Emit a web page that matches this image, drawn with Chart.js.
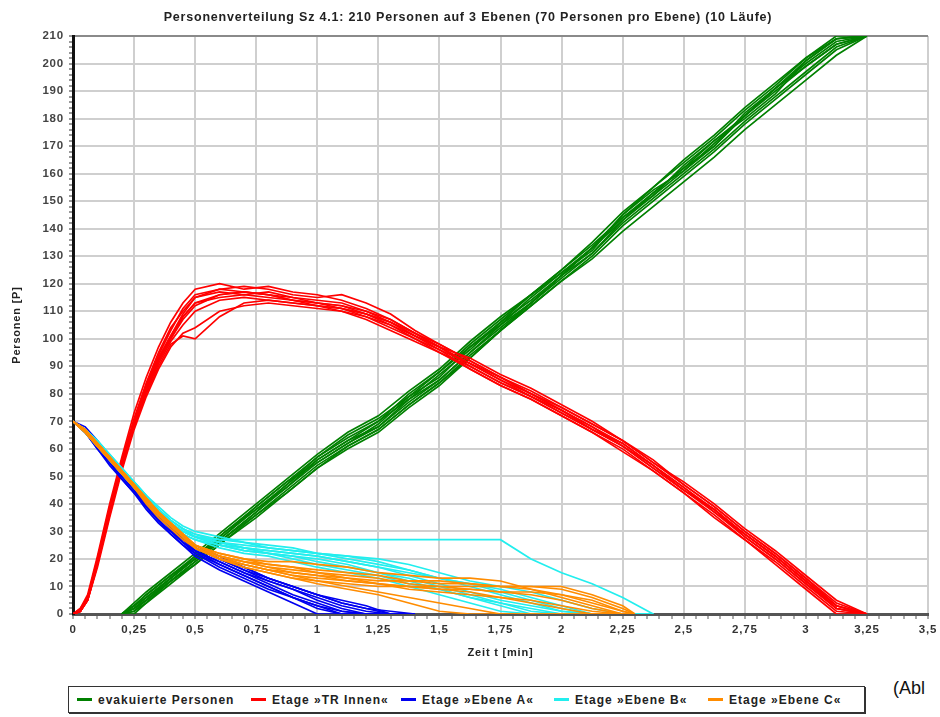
<!DOCTYPE html>
<html>
<head>
<meta charset="utf-8">
<script src="https://cdn.jsdelivr.net/npm/chart.js@4"></script>
<style>
  body { margin: 0; background: #fff; font-family: "Liberation Sans", Arial, sans-serif; }
  #wrap { position: relative; width: 940px; height: 717px; }
  #chart { position: absolute; left: 0; top: 0; }
  #legend { position: absolute; left: 68px; top: 686px; width: 797px; height: 27px;
            border: 1px solid #333; box-shadow: 1px 1px 0 #333; box-sizing: border-box; }
  .item { position: absolute; top: 6px; font-weight: bold; font-size: 12px; letter-spacing: 1px; color: #222; white-space: nowrap; }
  .item i { display: inline-block; width: 15px; height: 3px; vertical-align: middle; margin-right: 6px; position: relative; top: -1px; }
  #abl { position: absolute; left: 893px; top: 678px; font-size: 18px; color: #111; }
</style>
</head>
<body>
<div id="wrap">
  <canvas id="chart" width="940" height="668"></canvas>
  <div id="legend"></div>
  <div id="abl">(Abl</div>
</div>
<script>
// ---- data (time in min, persons) ----
const chartTitle = 'Personenverteilung Sz 4.1: 210 Personen auf 3 Ebenen (70 Personen pro Ebene) (10 Läufe)';
const seriesNames = ['evakuierte Personen', 'Etage »TR Innen«', 'Etage »Ebene A«', 'Etage »Ebene B«', 'Etage »Ebene C«'];
const seriesColors = ['#008000', '#ff0000', '#0000f0', '#22eeee', '#ff8c00'];

// evakuierte Personen
const tGreen = [0.2, 0.25, 0.3, 0.4, 0.5, 0.625, 0.75, 0.875, 1, 1.125, 1.25, 1.375, 1.5, 1.625, 1.75, 1.875, 2, 2.125, 2.25, 2.375, 2.5, 2.625, 2.75, 2.875, 3, 3.125, 3.25];
const greenRuns = [
  [0, 3, 7, 14, 21, 30, 39, 48, 57, 64, 70, 80, 88, 98, 107, 116, 125, 135, 146, 155, 164, 173, 183, 192, 202, 209, 210],
  [0, 2, 5, 12, 19, 28, 37, 46, 55, 62, 68, 77, 85, 95, 104, 113, 122, 131, 142, 151, 160, 169, 179, 188, 197, 206, 210],
  [0, 4, 8, 15, 22, 31, 40, 49, 58, 66, 72, 81, 89, 99, 108, 116, 124, 133, 143, 152, 161, 171, 181, 191, 201, 209, 210],
  [0, 1, 4, 11, 18, 27, 35, 44, 53, 60, 66, 75, 83, 93, 103, 113, 123, 133, 145, 155, 165, 174, 184, 193, 202, 210, 210],
  [0, 3, 6, 13, 20, 30, 38, 46, 56, 63, 70, 78, 87, 96, 106, 114, 123, 133, 144, 153, 162, 172, 181, 190, 199, 207, 210],
  [0, 2, 6, 13, 21, 29, 39, 48, 55, 62, 69, 79, 86, 97, 105, 115, 124, 132, 145, 154, 161, 170, 182, 191, 200, 208, 210],
  [0, 0, 4, 12, 19, 28, 36, 45, 54, 61, 67, 76, 84, 94, 103, 112, 121, 130, 141, 150, 159, 168, 178, 187, 196, 205, 210],
  [0, 3, 7, 14, 20, 29, 38, 47, 57, 65, 71, 79, 88, 97, 106, 116, 125, 134, 144, 152, 163, 172, 180, 189, 201, 209, 210],
  [0, 2, 5, 13, 20, 28, 37, 47, 56, 63, 68, 78, 85, 95, 105, 113, 123, 131, 143, 153, 162, 170, 181, 191, 199, 207, 210],
  [0, 1, 5, 12, 18, 27, 36, 44, 53, 61, 67, 76, 84, 93, 103, 112, 121, 129, 139, 148, 157, 166, 176, 185, 194, 203, 210]
];

// Etage »TR Innen«
const tRed = [0, 0.03, 0.06, 0.1, 0.15, 0.2, 0.25, 0.3, 0.35, 0.4, 0.45, 0.5, 0.6, 0.7, 0.8, 0.9, 1, 1.1, 1.2, 1.3, 1.4, 1.5, 1.625, 1.75, 1.875, 2, 2.125, 2.25, 2.375, 2.5, 2.625, 2.75, 2.875, 3, 3.125, 3.25];
const redRuns = [
  [0, 1, 6, 20, 38, 55, 70, 83, 94, 103, 111, 116, 118, 119, 118, 116, 115, 116, 113, 109, 103, 98, 92, 86, 81, 75, 69, 63, 56, 47, 39, 30, 22, 13, 4, 0],
  [0, 1, 5, 18, 36, 53, 68, 81, 91, 99, 105, 110, 114, 115, 114, 113, 112, 111, 108, 104, 100, 95, 90, 84, 79, 73, 67, 61, 53, 45, 37, 28, 20, 11, 2, 0],
  [0, 2, 7, 21, 40, 57, 73, 86, 97, 106, 113, 118, 120, 118, 119, 117, 116, 114, 111, 107, 102, 97, 93, 87, 82, 76, 70, 63, 55, 48, 40, 31, 23, 14, 5, 0],
  [0, 1, 5, 17, 35, 52, 67, 79, 89, 97, 102, 104, 110, 112, 113, 112, 111, 110, 108, 105, 101, 96, 89, 83, 78, 72, 66, 60, 52, 44, 36, 27, 19, 10, 1, 0],
  [0, 1, 6, 19, 37, 54, 69, 82, 92, 100, 108, 113, 116, 117, 116, 114, 113, 112, 110, 106, 101, 97, 91, 85, 80, 74, 68, 62, 54, 46, 38, 29, 21, 12, 3, 0],
  [0, 2, 6, 20, 39, 56, 71, 84, 95, 104, 110, 115, 117, 116, 117, 115, 114, 113, 110, 107, 102, 98, 92, 86, 80, 74, 68, 61, 54, 45, 38, 29, 21, 12, 3, 0],
  [0, 1, 5, 18, 36, 53, 68, 80, 90, 98, 101, 100, 108, 113, 114, 113, 112, 110, 107, 103, 99, 95, 89, 83, 78, 72, 66, 59, 52, 44, 35, 27, 18, 9, 0, 0],
  [0, 1, 6, 19, 38, 55, 70, 83, 93, 101, 109, 115, 118, 117, 116, 115, 113, 112, 109, 106, 102, 97, 91, 86, 80, 75, 69, 63, 55, 47, 39, 30, 22, 13, 3, 0],
  [0, 1, 6, 19, 37, 54, 69, 82, 93, 101, 108, 113, 115, 116, 115, 114, 113, 111, 109, 105, 100, 96, 91, 85, 79, 74, 67, 62, 54, 46, 37, 29, 21, 12, 2, 0],
  [0, 1, 5, 18, 37, 54, 69, 81, 92, 100, 107, 112, 116, 117, 116, 114, 112, 111, 109, 106, 101, 97, 90, 84, 79, 73, 67, 61, 53, 45, 38, 28, 20, 11, 2, 0]
];

// Etage »Ebene A«
const tBlue = [0, 0.05, 0.1, 0.15, 0.2, 0.25, 0.3, 0.35, 0.4, 0.45, 0.5, 0.6, 0.7, 0.8, 0.9, 1, 1.1, 1.2, 1.3, 1.4];
const blueRuns = [
  [70, 66, 61, 55, 50, 45, 39, 34, 30, 26, 22, 18, 14, 10, 6, 2, 0, 0, 0, 0],
  [70, 67, 62, 57, 52, 47, 41, 36, 32, 27, 24, 20, 16, 12, 9, 5, 2, 0, 0, 0],
  [70, 66, 60, 55, 49, 44, 38, 33, 29, 25, 21, 16, 12, 8, 4, 0, 0, 0, 0, 0],
  [70, 67, 62, 56, 51, 46, 41, 36, 31, 27, 24, 20, 16, 13, 10, 7, 4, 2, 0, 0],
  [70, 66, 61, 56, 51, 46, 40, 35, 31, 26, 23, 19, 15, 11, 7, 4, 1, 0, 0, 0],
  [70, 68, 63, 57, 52, 47, 41, 36, 32, 28, 25, 21, 17, 13, 10, 7, 5, 3, 0, 0],
  [70, 66, 61, 56, 50, 45, 39, 34, 30, 26, 23, 18, 14, 10, 6, 3, 1, 0, 0, 0],
  [70, 67, 62, 57, 52, 46, 40, 35, 31, 27, 23, 19, 15, 12, 9, 6, 3, 1, 0, 0],
  [70, 66, 60, 54, 49, 44, 39, 34, 29, 25, 22, 17, 13, 9, 6, 3, 0, 0, 0, 0],
  [70, 67, 62, 56, 51, 46, 41, 36, 32, 28, 24, 20, 17, 13, 10, 7, 4, 2, 1, 0]
];

// Etage »Ebene B«
const tCyan = [0, 0.05, 0.1, 0.15, 0.2, 0.25, 0.3, 0.35, 0.4, 0.45, 0.5, 0.6, 0.7, 0.8, 0.9, 1, 1.125, 1.25, 1.375, 1.5, 1.625, 1.75, 1.875, 2, 2.125, 2.25, 2.375];
const cyanRuns = [
  [70, 67, 62, 57, 52, 47, 42, 37, 33, 30, 28, 27, 27, 27, 27, 27, 27, 27, 27, 27, 27, 27, 20, 15, 11, 6, 0],
  [70, 67, 63, 58, 53, 48, 43, 38, 34, 31, 29, 26, 25, 24, 23, 22, 21, 19, 16, 13, 10, 7, 4, 1, 0, 0, 0],
  [70, 66, 61, 56, 51, 46, 41, 36, 32, 29, 27, 25, 23, 22, 21, 20, 18, 15, 12, 9, 6, 3, 0, 0, 0, 0, 0],
  [70, 67, 62, 57, 52, 47, 42, 38, 34, 31, 28, 26, 24, 23, 22, 21, 19, 17, 15, 13, 11, 9, 6, 3, 0, 0, 0],
  [70, 66, 62, 56, 51, 46, 41, 36, 32, 29, 27, 24, 22, 21, 19, 17, 15, 13, 10, 7, 4, 1, 0, 0, 0, 0, 0],
  [70, 67, 63, 58, 53, 48, 43, 39, 35, 32, 30, 28, 26, 25, 24, 22, 20, 18, 16, 13, 11, 8, 5, 2, 0, 0, 0],
  [70, 66, 61, 56, 51, 46, 42, 37, 33, 30, 28, 25, 23, 22, 20, 18, 16, 14, 11, 9, 6, 4, 2, 0, 0, 0, 0],
  [70, 67, 62, 57, 52, 48, 43, 38, 34, 31, 29, 27, 26, 24, 23, 22, 21, 20, 18, 15, 12, 10, 8, 5, 2, 0, 0],
  [70, 66, 61, 56, 51, 46, 41, 37, 33, 30, 28, 26, 24, 23, 22, 21, 19, 17, 14, 11, 8, 5, 3, 1, 0, 0, 0],
  [70, 67, 62, 57, 52, 47, 42, 37, 33, 30, 28, 25, 24, 22, 21, 19, 17, 15, 13, 10, 7, 4, 1, 0, 0, 0, 0]
];

// Etage »Ebene C«
const tOrange = [0, 0.05, 0.1, 0.15, 0.2, 0.25, 0.3, 0.35, 0.4, 0.45, 0.5, 0.6, 0.7, 0.8, 0.9, 1, 1.125, 1.25, 1.375, 1.5, 1.625, 1.75, 1.875, 2, 2.125, 2.25, 2.3];
const orangeRuns = [
  [70, 67, 62, 57, 52, 47, 42, 37, 33, 29, 25, 21, 19, 18, 17, 16, 15, 14, 12, 11, 11, 10, 10, 9, 6, 2, 0],
  [70, 66, 61, 56, 51, 46, 40, 35, 31, 27, 24, 20, 17, 15, 13, 11, 9, 7, 4, 1, 0, 0, 0, 0, 0, 0, 0],
  [70, 67, 62, 57, 52, 47, 42, 37, 33, 29, 25, 21, 19, 17, 15, 14, 13, 12, 12, 12, 11, 10, 9, 6, 3, 0, 0],
  [70, 66, 61, 56, 51, 46, 41, 36, 32, 28, 24, 20, 17, 15, 13, 12, 11, 10, 10, 9, 9, 8, 7, 5, 2, 0, 0],
  [70, 67, 62, 57, 52, 47, 42, 37, 33, 29, 25, 22, 20, 19, 19, 18, 17, 15, 14, 13, 13, 12, 9, 7, 4, 1, 0],
  [70, 66, 61, 56, 51, 46, 41, 36, 32, 28, 24, 20, 18, 16, 14, 13, 12, 11, 10, 9, 8, 6, 4, 2, 0, 0, 0],
  [70, 67, 62, 57, 52, 47, 42, 37, 32, 28, 25, 21, 19, 17, 16, 15, 13, 11, 10, 10, 10, 10, 10, 10, 7, 3, 0],
  [70, 66, 61, 56, 51, 46, 41, 36, 32, 28, 24, 21, 18, 16, 14, 12, 10, 8, 6, 4, 2, 0, 0, 0, 0, 0, 0],
  [70, 67, 62, 57, 52, 47, 42, 37, 33, 29, 25, 22, 20, 18, 17, 15, 14, 13, 11, 10, 9, 8, 8, 7, 5, 1, 0],
  [70, 66, 62, 57, 52, 47, 41, 36, 32, 28, 24, 20, 18, 16, 15, 14, 12, 11, 9, 8, 7, 6, 5, 3, 1, 0, 0]
];

const groups = [
  [tGreen, greenRuns],
  [tRed, redRuns],
  [tBlue, blueRuns],
  [tCyan, cyanRuns],
  [tOrange, orangeRuns]
];

// ---- datasets ----
const datasets = [];
groups.forEach(([times, runs], g) => {
  runs.forEach((run, r) => {
    datasets.push({
      label: seriesNames[g] + ' ' + (r + 1),
      data: run.map((y, i) => ({ x: times[i], y: y })),
      borderColor: seriesColors[g],
      borderWidth: 1.7,
      pointRadius: 0,
      tension: 0,
      fill: false,
      order: groups.length - g   // orange on top, green at the bottom
    });
  });
});

const fmt = v => String(Math.round(v * 100) / 100).replace('.', ',');
const labelFont = { family: 'Liberation Sans', size: 11.5, weight: 'bold' };

// the picture's text is a little stretched, so space the canvas letters out
const spacing = {
  id: 'spacing',
  beforeDraw(chart) { chart.ctx.letterSpacing = '0.8px'; }
};

new Chart(document.getElementById('chart'), {
  type: 'line',
  data: { datasets },
  plugins: [spacing],
  options: {
    responsive: false,
    animation: false,
    devicePixelRatio: 1,
    layout: { padding: { left: 8, right: 12, top: 0, bottom: 0 } },
    scales: {
      x: {
        type: 'linear',
        min: 0,
        max: 3.5,
        afterFit: s => { s.height = 54; },
        ticks: {
          stepSize: 0.05,
          autoSkip: false,
          maxRotation: 0,
          padding: 4,
          color: '#333',
          font: labelFont,
          callback: v => (Math.round(v * 100) % 25 === 0 ? fmt(v) : '')
        },
        grid: {
          color: c => (c.tick && Math.round(c.tick.value * 100) % 25 === 0 ? '#cfcfcf' : 'rgba(0,0,0,0)'),
          lineWidth: 2,
          tickColor: '#555',
          tickLength: 5,
          tickWidth: 1
        },
        border: { color: '#555', width: 3 },
        title: {
          display: true,
          text: 'Zeit t [min]',
          color: '#222',
          font: { family: 'Liberation Sans', size: 11, weight: 'bold' },
          padding: { top: 0, bottom: 8 }
        }
      },
      y: {
        min: 0,
        max: 210,
        afterFit: s => { s.width = 65; },
        ticks: {
          stepSize: 2,
          autoSkip: false,
          padding: 5,
          color: '#444',
          font: labelFont,
          callback: v => (v % 10 === 0 ? String(v) : '')
        },
        grid: {
          color: c => {
            if (!c.tick || c.tick.value % 10 !== 0) return 'rgba(0,0,0,0)';
            return c.tick.value === 210 ? '#8a8a8a' : '#cfcfcf';
          },
          lineWidth: 2,
          tickColor: '#333',
          tickLength: 4,
          tickWidth: 1
        },
        border: { color: '#111', width: 3 },
        title: {
          display: true,
          text: 'Personen [P]',
          color: '#222',
          font: { family: 'Liberation Sans', size: 11, weight: 'bold' },
          padding: { top: 2, bottom: 0 }
        }
      }
    },
    plugins: {
      legend: { display: false },
      tooltip: { enabled: false },
      title: {
        display: true,
        text: chartTitle,
        color: '#222',
        font: { family: 'Liberation Sans', size: 12.5, weight: 'bold' },
        padding: { top: 10, bottom: 11 }
      }
    }
  }
});

// ---- legend box below the chart ----
const legendLeft = [8, 182, 332, 485, 639];
const legend = document.getElementById('legend');
seriesNames.forEach((name, i) => {
  const el = document.createElement('div');
  el.className = 'item';
  el.style.left = legendLeft[i] + 'px';
  el.innerHTML = '<i style="background:' + seriesColors[i] + '"></i>' + name;
  legend.appendChild(el);
});
</script>
</body>
</html>
